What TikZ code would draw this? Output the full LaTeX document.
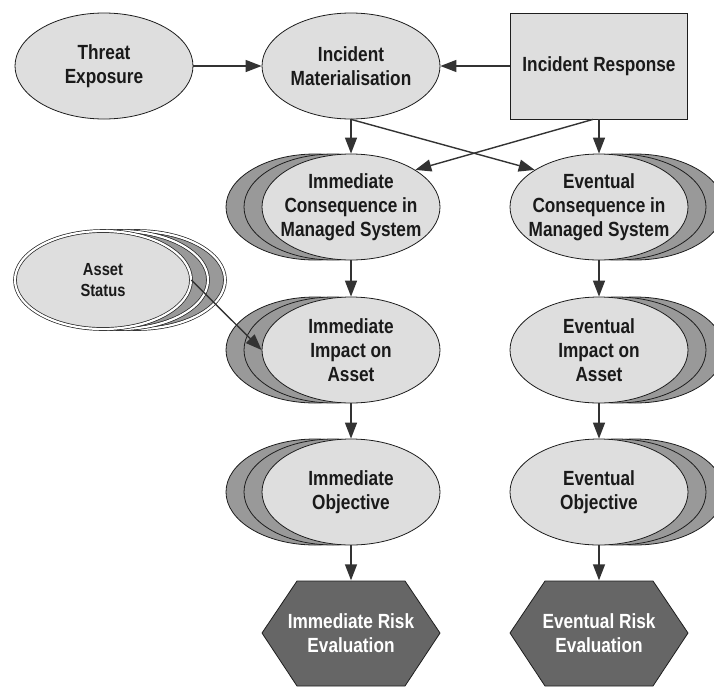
\documentclass[tikz,border=0pt]{standalone}
\usepackage{fontspec}
\setmainfont[FakeStretch=0.84]{Liberation Sans}
\usetikzlibrary{arrows.meta,shapes.geometric}

\definecolor{lightfill}{HTML}{DEDEDE}
\definecolor{midfill}{HTML}{999999}
\definecolor{darkfill}{HTML}{666666}
\definecolor{edge}{HTML}{1E1E1E}
\definecolor{wire}{HTML}{333333}
\definecolor{ink}{HTML}{1A1A1A}

\begin{document}
\begin{tikzpicture}[x=1pt,y=-1pt,
  ell/.style={ellipse, draw=edge, line width=0.8pt, fill=lightfill,
    minimum width=178pt, minimum height=106pt, inner sep=0pt},
  backell/.style={ell, fill=midfill},
  assetell/.style={ellipse, draw=edge, line width=0.7pt, double=white,
    double distance=2.2pt, fill=lightfill,
    minimum width=176pt, minimum height=98pt, inner sep=0pt},
  assetback/.style={assetell, fill=midfill},
  boxnode/.style={rectangle, draw=edge, line width=0.8pt, fill=lightfill,
    minimum width=177pt, minimum height=106pt, inner sep=0pt},
  txt/.style={align=center, text=ink, font=\fontsize{20.5}{24}\selectfont\bfseries},
  smalltxt/.style={align=center, text=ink, font=\fontsize{17.5}{21}\selectfont\bfseries},
  hexshape/.style={draw=edge, line width=0.8pt, fill=darkfill},
  hextxt/.style={align=center, text=white, font=\fontsize{20.5}{24}\selectfont\bfseries,
    minimum width=178pt, minimum height=105pt, inner sep=0pt},
  arr/.style={draw=wire, line width=1.4pt, -{Triangle[length=16pt,width=12pt]}},
  link/.style={draw=wire, line width=1.4pt}
]
\path[use as bounding box] (0,0) rectangle (714,686);
\clip (0,0) rectangle (714,686);

% top row
\node[ell] (threat) at (104,66) {};
\node[txt] at (threat) {Threat\\Exposure};
\node[ell] (incident) at (351,66) {};
\node[txt] at (incident) {Incident\\Materialisation};
\node[boxnode] (resp) at (599,66) {};
\node[txt] at (resp) {Incident Response};

% immediate column: stacked copies to the left
\node[backell] at (315,207) {};
\node[backell] at (333,207) {};
\node[ell] (imcons) at (351,207) {};
\node[txt] at (imcons) {Immediate\\Consequence in\\Managed System};

\node[backell] at (315,350) {};
\node[backell] at (333,350) {};
\node[ell] (imimp) at (351,350) {};
\node[txt] at (imimp) {Immediate\\Impact on\\Asset};

\node[backell] at (315,492) {};
\node[backell] at (333,492) {};
\node[ell] (imobj) at (351,492) {};
\node[txt] at (imobj) {Immediate\\Objective};

% eventual column: stacked copies to the right
\node[backell] at (635,207) {};
\node[backell] at (617,207) {};
\node[ell] (evcons) at (599,207) {};
\node[txt] at (evcons) {Eventual\\Consequence in\\Managed System};

\node[backell] at (635,350) {};
\node[backell] at (617,350) {};
\node[ell] (evimp) at (599,350) {};
\node[txt] at (evimp) {Eventual\\Impact on\\Asset};

\node[backell] at (635,492) {};
\node[backell] at (617,492) {};
\node[ell] (evobj) at (599,492) {};
\node[txt] at (evobj) {Eventual\\Objective};

% asset status, double-bordered stack
\node[assetback] at (137,280) {};
\node[assetback] at (120,280) {};
\node[assetell] (asset) at (103,280) {};
\node[smalltxt] at (asset) {Asset\\Status};

% risk evaluations
\draw[hexshape] (262,633) -- (297,581) -- (405,581) -- (440,633) -- (405,686) -- (297,686) -- cycle;
\node[hextxt] (imrisk) at (351,633) {Immediate Risk\\Evaluation};
\draw[hexshape] (510,633) -- (545,581) -- (653,581) -- (688,633) -- (653,686) -- (545,686) -- cycle;
\node[hextxt] (evrisk) at (599,633) {Eventual Risk\\Evaluation};

% connectors
\draw[arr] (threat) -- (incident);
\draw[arr] (resp) -- (incident);
\draw[arr] (incident) -- (imcons);
\draw[arr] (resp) -- (evcons);
\draw[arr] (incident.south) -- (evcons.150);
\draw[arr] ([xshift=-6pt]resp.south) -- (imcons.30);
\draw[arr] (imcons) -- (imimp);
\draw[arr] (imimp) -- (imobj);
\draw[arr] (imobj) -- (imrisk);
\draw[arr] (evcons) -- (evimp);
\draw[arr] (evimp) -- (evobj);
\draw[arr] (evobj) -- (evrisk);
\draw[arr] (asset.east) -- (imimp.west);
\end{tikzpicture}
\end{document}
